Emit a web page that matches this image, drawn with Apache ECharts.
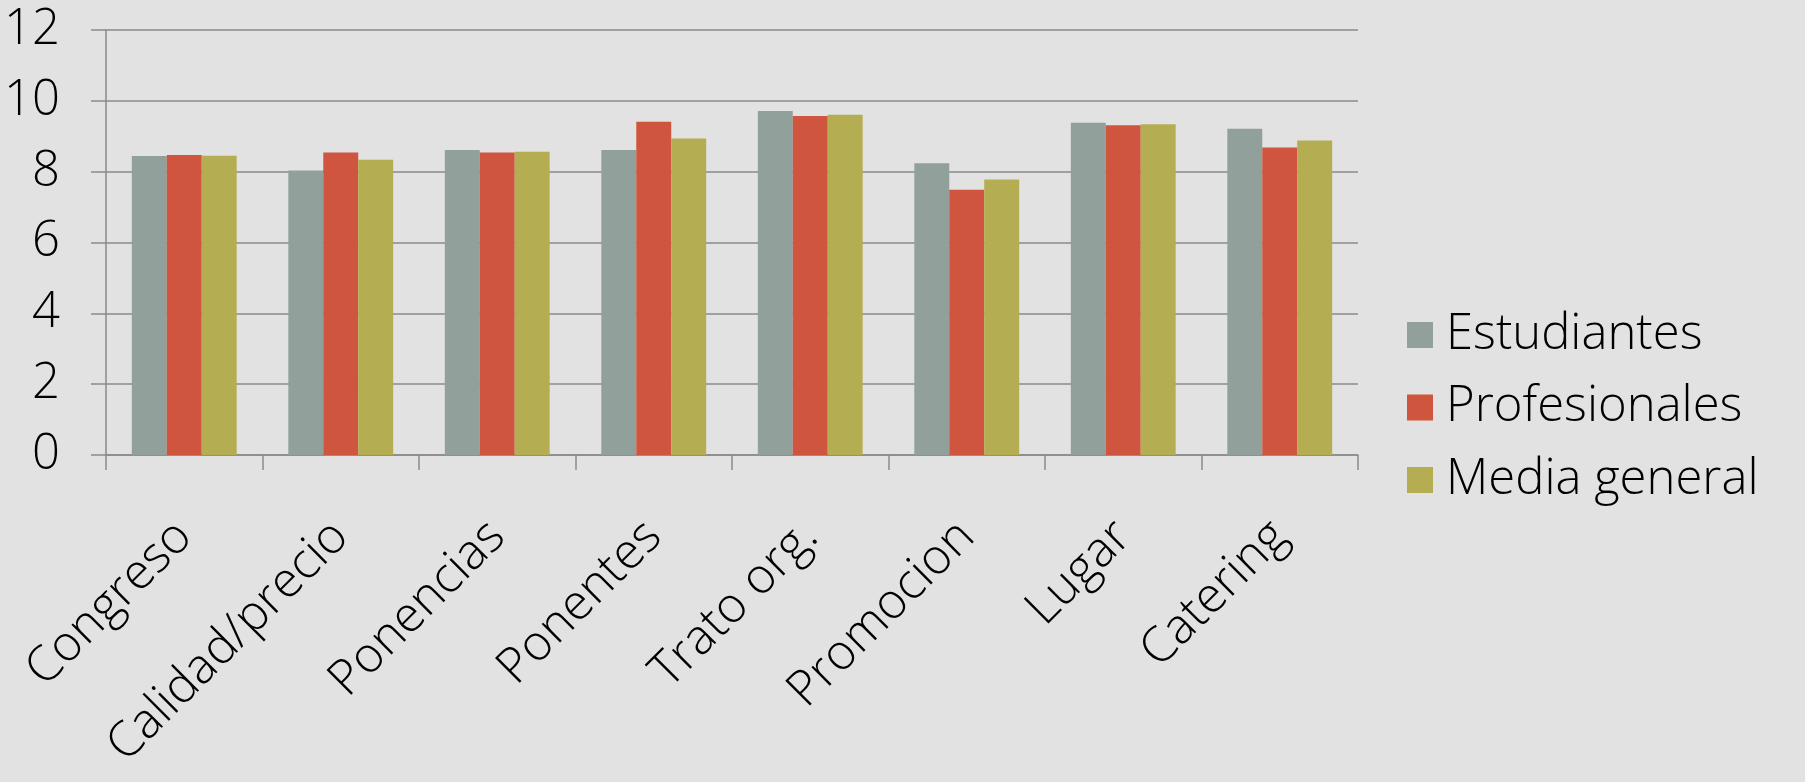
<!DOCTYPE html>
<html>
<head>
<meta charset="utf-8">
<script src="https://cdn.jsdelivr.net/npm/echarts@6/dist/echarts.min.js"></script>
<style>
  html, body { margin: 0; padding: 0; background: #e2e2e2; }
  #chart { width: 1805px; height: 782px; }
</style>
</head>
<body>
<div id="chart"></div>
<script>
var categories = ['Congreso', 'Calidad/precio', 'Ponencias', 'Ponentes', 'Trato org.', 'Promocion', 'Lugar', 'Catering'];
var estudiantes = [8.44, 8.03, 8.61, 8.61, 9.71, 8.24, 9.38, 9.21];
var profesionales = [8.47, 8.54, 8.54, 9.41, 9.57, 7.49, 9.31, 8.68];
var mediaGeneral = [8.45, 8.34, 8.56, 8.94, 9.61, 7.78, 9.34, 8.88];
var seriesNames = ['Estudiantes', 'Profesionales', 'Media general'];

var chart = echarts.init(document.getElementById('chart'));
var axisGray = '#8a8a8a';
var font = 'Open Sans';

var options = {
  backgroundColor: '#e2e2e2',
  animation: false,
  color: ['#91a09a', '#cf553f', '#b5ad52'],
  textStyle: { fontFamily: font },
  grid: {
    left: 106,
    right: 447,
    top: 30,
    bottom: 327
  },
  legend: {
    orient: 'vertical',
    left: 1407,
    top: 310,
    padding: 0,
    icon: 'rect',
    itemWidth: 26,
    itemHeight: 26,
    itemGap: 22.5,
    textStyle: {
      fontFamily: font,
      fontWeight: 300,
      fontSize: 49,
      lineHeight: 50,
      color: '#000',
      padding: [0, 0, 0, 8]
    },
    data: seriesNames
  },
  xAxis: {
    type: 'category',
    data: categories,
    axisLine: { show: true, lineStyle: { color: axisGray, width: 1.5 } },
    axisTick: { show: true, length: 15, lineStyle: { color: axisGray, width: 1.5 } },
    axisLabel: {
      rotate: 45,
      margin: 74,
      interval: 0,
      fontFamily: font,
      fontWeight: 300,
      fontSize: 49,
      color: '#000'
    },
    splitLine: { show: false }
  },
  yAxis: {
    type: 'value',
    min: 0,
    max: 12,
    interval: 2,
    axisLine: { show: true, lineStyle: { color: axisGray, width: 1.5 } },
    axisTick: { show: true, length: 15, lineStyle: { color: axisGray, width: 1.5 } },
    axisLabel: {
      margin: 46,
      fontFamily: font,
      fontWeight: 300,
      fontSize: 49,
      color: '#000'
    },
    splitLine: { show: true, lineStyle: { color: axisGray, width: 1.5 } }
  },
  series: [
    { name: seriesNames[0], type: 'bar', data: estudiantes, barGap: '0%', barCategoryGap: '33%' },
    { name: seriesNames[1], type: 'bar', data: profesionales, barGap: '0%', barCategoryGap: '33%' },
    { name: seriesNames[2], type: 'bar', data: mediaGeneral, barGap: '0%', barCategoryGap: '33%' }
  ]
};

chart.setOption(options);
window.addEventListener('resize', function () { chart.resize(); });
</script>
</body>
</html>
